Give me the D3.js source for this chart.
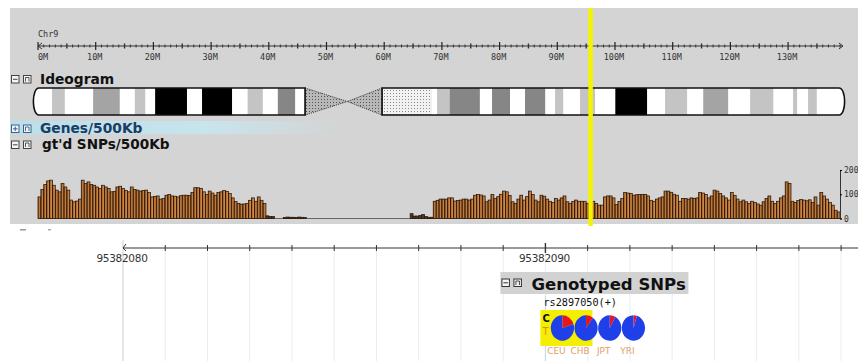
<!DOCTYPE html>
<html>
<head>
<meta charset="utf-8">
<script src="https://cdn.jsdelivr.net/npm/d3@7"></script>
<style>
  html, body { margin: 0; padding: 0; background: #fff; }
  svg { display: block; }
</style>
</head>
<body>
<div id="chart"></div>
<script>
// chromosome overview
const chromName = "Chr9";
const chromLength = 140.27; // Mb
const majorTicks = [0, 10, 20, 30, 40, 50, 60, 70, 80, 90, 100, 110, 120, 130];
const majorTickLabels = ["0M", "10M", "20M", "30M", "40M", "50M", "60M", "70M", "80M", "90M", "100M", "110M", "120M", "130M"];

// cytobands [start Mb, end Mb, stain]
const bands = [
  [0, 3.3, "gneg"], [3.3, 5.5, "gpos25"], [5.5, 10.4, "gneg"], [10.4, 15.0, "gpos50"],
  [15.0, 17.6, "gneg"], [17.6, 19.4, "gpos25"], [19.4, 21.1, "gneg"], [21.1, 26.6, "gpos100"],
  [26.6, 29.2, "gneg"], [29.2, 34.4, "gpos100"], [34.4, 37.1, "gneg"], [37.1, 39.7, "gpos25"],
  [39.7, 42.3, "gneg"], [42.3, 45.3, "gpos75"], [45.3, 47.0, "gneg"],
  [60.3, 68.9, "gvar"], [68.9, 69.8, "gneg"], [69.8, 72.0, "gpos25"], [72.0, 77.2, "gpos75"],
  [77.2, 79.3, "gneg"], [79.3, 82.4, "gpos75"], [82.4, 85.0, "gneg"], [85.0, 88.5, "gpos75"],
  [88.5, 90.2, "gneg"], [90.2, 91.6, "gpos25"], [91.6, 94.5, "gneg"], [94.5, 97.1, "gpos25"],
  [97.1, 100.6, "gneg"], [100.6, 106.1, "gpos100"], [106.1, 109.2, "gneg"], [109.2, 113.0, "gpos25"],
  [113.0, 115.8, "gneg"], [115.8, 120.1, "gpos50"], [120.1, 123.9, "gneg"], [123.9, 127.9, "gpos25"],
  [127.9, 131.3, "gneg"], [131.3, 132.0, "gpos25"], [132.0, 133.9, "gneg"], [133.9, 135.4, "gpos25"],
  [135.4, 140.27, "gneg"]
];
const pArmEnd = 47.0, centromereMid = 54.3, qArmStart = 60.3;

// genotyped SNPs per 500Kb bin, starting at 0 Mb
const binSize = 0.5;
const snpCounts = [
  89, 120, 140, 155, 158, 137, 117, 110, 144, 130,
  117, 76, 69, 72, 80, 158, 144, 151, 140, 137,
  130, 124, 137, 130, 124, 110, 112, 130, 133, 124,
  115, 110, 130, 120, 117, 113, 115, 117, 107, 89,
  91, 93, 80, 82, 96, 99, 93, 92, 89, 94,
  96, 96, 95, 107, 127, 127, 124, 110, 99, 113,
  105, 96, 107, 110, 115, 112, 103, 85, 70, 62,
  59, 60, 62, 75, 85, 71, 89, 75, 62,
  11, 8, 8, 0, 0, 0, 4, 6, 5, 5, 4, 6, 5, 4,
  0, 0, 0, 0, 0, 0, 0, 0, 0, 0, 0, 0, 0, 0, 0, 0, 0, 0,
  0, 0, 0, 0, 0, 0, 0, 0, 0, 0, 0, 0, 0, 0, 0, 0, 0, 0,
  20, 10, 10, 12, 16, 8, 5, 5, 71,
  75, 80, 80, 80, 85, 85, 72, 74, 76, 80,
  80, 76, 80, 96, 99, 97, 93, 69, 76, 99,
  82, 90, 100, 113, 110, 95, 69, 62, 80, 96,
  76, 90, 113, 99, 76, 69, 96, 92, 80, 71,
  66, 82, 76, 85, 93, 69, 62, 70, 76, 71,
  71, 71, 62, 69, 71, 62, 55, 55, 89, 93,
  93, 85, 58, 70, 82, 107, 105, 103, 96, 98,
  99, 99, 99, 93, 75, 71, 80, 85, 89, 113,
  113, 108, 100, 96, 71, 82, 82, 80, 85, 82,
  85, 107, 105, 99, 85, 93, 117, 113, 103, 93,
  85, 76, 107, 95, 80, 69, 76, 69, 62, 71,
  66, 60, 55, 69, 82, 93, 71, 62, 71, 85,
  93, 151, 144, 71, 66, 74, 78, 76, 73, 77,
  66, 89, 55, 107, 93, 80, 66, 55, 34, 27
];
const countTicks = [0, 100, 200];

// detail view
const detailStart = 95382080, detailEnd = 95382097.4;
const detailLabels = [95382080, 95382090];
const snpPos = 95382090;
const snpName = "rs2897050(+)";
const alleles = ["C", "T"];
const pops = ["CEU", "CHB", "JPT", "YRI"];
const freqC = [0.2, 0.1, 0.08, 0.05];

const W = 858, H = 361;
const stainFill = {gneg: "#ffffff", gpos25: "#c4c4c4", gpos50: "#a4a4a4", gpos75: "#868686", gpos100: "#000000"};

const svg = d3.select("#chart").append("svg")
  .attr("width", W).attr("height", H)
  .style("font-family", "DejaVu Sans, sans-serif");

const defs = svg.append("defs");
const acen = defs.append("pattern").attr("id", "acenPat")
  .attr("width", 3).attr("height", 3).attr("patternUnits", "userSpaceOnUse");
acen.append("rect").attr("width", 3).attr("height", 3).attr("fill", "#b8b8b8");
acen.append("rect").attr("width", 1).attr("height", 1).attr("fill", "#555");
const gvar = defs.append("pattern").attr("id", "gvarPat")
  .attr("width", 3).attr("height", 3).attr("patternUnits", "userSpaceOnUse");
gvar.append("rect").attr("width", 3).attr("height", 3).attr("fill", "#f2f2f2");
gvar.append("rect").attr("width", 1).attr("height", 1).attr("fill", "#8a8a8a");

const barGrad = defs.append("linearGradient").attr("id", "barGrad");
barGrad.append("stop").attr("offset", "0%").attr("stop-color", "#5e3210");
barGrad.append("stop").attr("offset", "30%").attr("stop-color", "#b06a2e");
barGrad.append("stop").attr("offset", "70%").attr("stop-color", "#d08a48");
barGrad.append("stop").attr("offset", "100%").attr("stop-color", "#a86430");

// grey overview panel
svg.append("rect").attr("x", 10).attr("y", 8).attr("width", W - 10).attr("height", 216).attr("fill", "#d4d4d4");

const x = d3.scaleLinear().domain([0, 140]).range([38, 845.8]);
const ideoX = d3.scaleLinear().domain([0, chromLength]).range([33, 845]);

// Genes row highlight
const hl = defs.append("linearGradient").attr("id", "hlGrad");
hl.append("stop").attr("offset", "0%").attr("stop-color", "#b8e0ec");
hl.append("stop").attr("offset", "60%").attr("stop-color", "#c8e4ec");
hl.append("stop").attr("offset", "100%").attr("stop-color", "#d4d4d4");
svg.append("rect").attr("x", 10).attr("y", 121).attr("width", 330).attr("height", 13).attr("fill", "url(#hlGrad)");

// chromosome ruler
svg.append("text").attr("x", 38).attr("y", 37).attr("font-size", 8.5)
  .attr("font-family", "DejaVu Sans Mono, monospace").attr("fill", "#333").text(chromName);
const axisY = 46;
svg.append("line").attr("x1", x(0)).attr("x2", x(139.5)).attr("y1", axisY).attr("y2", axisY)
  .attr("stroke", "#333").attr("stroke-width", 1);
svg.append("path").attr("d", `M${x(0) + 4},${axisY - 3}L${x(0)},${axisY}L${x(0) + 4},${axisY + 3}`)
  .attr("fill", "none").attr("stroke", "#333");
svg.append("path").attr("d", `M${x(139.5) - 4},${axisY - 3}L${x(139.5)},${axisY}L${x(139.5) - 4},${axisY + 3}`)
  .attr("fill", "none").attr("stroke", "#333");
svg.append("g").selectAll("line").data(d3.range(1, 140).filter(d => d % 10 !== 0))
  .join("line")
  .attr("x1", d => x(d)).attr("x2", d => x(d))
  .attr("y1", d => d % 5 === 0 ? axisY - 2.5 : axisY - 1.5)
  .attr("y2", d => d % 5 === 0 ? axisY + 2.5 : axisY + 1.5)
  .attr("stroke", "#333").attr("stroke-width", d => d % 5 === 0 ? 1.4 : 1);
svg.append("g").selectAll("line").data(majorTicks).join("line")
  .attr("x1", d => x(d)).attr("x2", d => x(d)).attr("y1", axisY - 4).attr("y2", axisY + 4)
  .attr("stroke", "#222").attr("stroke-width", 1.2);
svg.append("g").selectAll("text").data(majorTicks).join("text")
  .attr("x", (d, i) => i === 0 ? x(d) : x(d) - 1).attr("y", 60)
  .attr("text-anchor", (d, i) => i === 0 ? "start" : "middle")
  .attr("font-size", 8.5).attr("font-family", "DejaVu Sans Mono, monospace").attr("fill", "#333")
  .text((d, i) => majorTickLabels[i]);

// track header icons
function icons(g, x0, y0, color, second) {
  g.append("rect").attr("x", x0 + 0.5).attr("y", y0 + 0.5).attr("width", 7.5).attr("height", 7.5)
    .attr("fill", "#f4f4f4").attr("stroke", color);
  g.append("line").attr("x1", x0 + 2).attr("x2", x0 + 6.5).attr("y1", y0 + 4.3).attr("y2", y0 + 4.3).attr("stroke", color);
  if (second === "plus") g.append("line").attr("x1", x0 + 4.25).attr("x2", x0 + 4.25).attr("y1", y0 + 2).attr("y2", y0 + 6.5).attr("stroke", color);
  g.append("rect").attr("x", x0 + 12.5).attr("y", y0 + 0.5).attr("width", 7.5).attr("height", 7.5)
    .attr("fill", "#f4f4f4").attr("stroke", color);
  g.append("path").attr("d", `M${x0 + 14.5},${y0 + 6.5}V${y0 + 2.5}H${x0 + 18}V${y0 + 6.5}`)
    .attr("fill", "none").attr("stroke", color).attr("stroke-width", 0.9);
}
const header = svg.append("g");
icons(header, 11, 75, "#444");
icons(header, 11, 124.5, "#3a6090", "plus");
icons(header, 11, 140.5, "#444");
header.append("text").attr("x", 40).attr("y", 84).attr("font-size", 13.8).attr("font-weight", "bold").attr("fill", "#111").text("Ideogram");
header.append("text").attr("x", 40).attr("y", 133).attr("font-size", 13.8).attr("font-weight", "bold").attr("fill", "#1c3c62").text("Genes/500Kb");
header.append("text").attr("x", 42).attr("y", 149).attr("font-size", 13.6).attr("font-weight", "bold").attr("fill", "#111").text("gt'd SNPs/500Kb");

// ideogram
const iTop = 88, iBot = 115, iMid = (iTop + iBot) / 2;
const pPath = `M${ideoX(0) + 6},${iTop}L${ideoX(pArmEnd)},${iTop}L${ideoX(pArmEnd)},${iBot}L${ideoX(0) + 6},${iBot}` +
  `C${ideoX(0) - 1.5},${iBot} ${ideoX(0) - 1.5},${iTop} ${ideoX(0) + 6},${iTop}Z`;
const qEnd = ideoX(chromLength);
const qPath = `M${ideoX(qArmStart)},${iTop}L${qEnd - 6},${iTop}C${qEnd + 1.5},${iTop} ${qEnd + 1.5},${iBot} ${qEnd - 6},${iBot}` +
  `L${ideoX(qArmStart)},${iBot}Z`;
defs.append("clipPath").attr("id", "pClip").append("path").attr("d", pPath);
defs.append("clipPath").attr("id", "qClip").append("path").attr("d", qPath);
const ideo = svg.append("g");
ideo.append("g").attr("clip-path", "url(#pClip)").selectAll("rect")
  .data(bands.filter(b => b[1] <= pArmEnd)).join("rect")
  .attr("x", d => ideoX(d[0]) - 2 * (d[0] === 0)).attr("width", d => ideoX(d[1]) - ideoX(d[0]) + 2 * (d[0] === 0))
  .attr("y", iTop).attr("height", iBot - iTop)
  .attr("fill", d => stainFill[d[2]]);
ideo.append("g").attr("clip-path", "url(#qClip)").selectAll("rect")
  .data(bands.filter(b => b[0] >= qArmStart)).join("rect")
  .attr("x", d => ideoX(d[0])).attr("width", d => ideoX(d[1]) - ideoX(d[0]) + 2 * (d[1] === chromLength))
  .attr("y", iTop).attr("height", iBot - iTop)
  .attr("fill", d => d[2] === "gvar" ? "url(#gvarPat)" : stainFill[d[2]]);
// centromere
ideo.append("path")
  .attr("d", `M${ideoX(pArmEnd)},${iTop}L${ideoX(centromereMid)},${iMid}L${ideoX(pArmEnd)},${iBot}Z`)
  .attr("fill", "url(#acenPat)").attr("stroke", "#333").attr("stroke-width", 0.9).attr("stroke-dasharray", "1.2,1");
ideo.append("path")
  .attr("d", `M${ideoX(qArmStart)},${iTop}L${ideoX(centromereMid)},${iMid}L${ideoX(qArmStart)},${iBot}Z`)
  .attr("fill", "url(#acenPat)").attr("stroke", "#333").attr("stroke-width", 0.9).attr("stroke-dasharray", "1.2,1");
ideo.append("path").attr("d", pPath).attr("fill", "none").attr("stroke", "#111").attr("stroke-width", 1.6);
ideo.append("path").attr("d", qPath).attr("fill", "none").attr("stroke", "#111").attr("stroke-width", 1.6);

// SNP density bars
const y = d3.scaleLinear().domain([0, 200]).range([218.5, 170]);
svg.append("line").attr("x1", x(0)).attr("x2", x(139)).attr("y1", y(0)).attr("y2", y(0))
  .attr("stroke", "#666").attr("stroke-width", 1);
svg.append("g").selectAll("rect")
  .data(snpCounts.map((v, i) => ({start: i * binSize, v})).filter(d => d.v > 0))
  .join("rect")
  .attr("x", d => x(d.start)).attr("width", x(binSize) - x(0))
  .attr("y", d => y(d.v)).attr("height", d => y(0) - y(d.v))
  .attr("fill", d => d.v < 25 ? "#4a3a2a" : "url(#barGrad)")
  .attr("stroke", "#2a1606").attr("stroke-width", 0.75);

const rightAxis = d3.axisRight(y).tickValues(countTicks).tickSize(2).tickFormat(d3.format("d"));
svg.append("g").attr("transform", "translate(840,0)").call(rightAxis)
  .call(g => g.select(".domain").attr("stroke", "#333"))
  .call(g => g.selectAll("text").attr("font-size", 8).attr("font-family", "DejaVu Sans Mono, monospace").attr("fill", "#333").attr("dx", -1));

// position marker
svg.append("rect").attr("x", x(snpPos / 1e6)).attr("y", 8).attr("width", 4.5).attr("height", 218)
  .attr("fill", "#f4f400");

// cut-off marks under the panel
svg.append("rect").attr("x", 20).attr("y", 229).attr("width", 6).attr("height", 1.5).attr("fill", "#999");
svg.append("rect").attr("x", 48).attr("y", 229).attr("width", 3).attr("height", 1.5).attr("fill", "#aaa");

// detail base-pair ruler
const bx = d3.scaleLinear().domain([detailStart, detailEnd]).range([123, 858]);
const bpTicks = d3.range(detailStart, detailEnd, 1);
const bAxisY = 248;
svg.append("g").selectAll("line").data(bpTicks.slice(1)).join("line")
  .attr("x1", d => bx(d)).attr("x2", d => bx(d)).attr("y1", bAxisY + 2).attr("y2", H)
  .attr("stroke", "#e4eef3").attr("stroke-width", 1);
svg.append("line").attr("x1", bx(detailStart)).attr("x2", bx(detailStart)).attr("y1", 240).attr("y2", H)
  .attr("stroke", "#cfcfcf");
svg.append("line").attr("x1", bx(detailStart)).attr("x2", W).attr("y1", bAxisY).attr("y2", bAxisY)
  .attr("stroke", "#333");
svg.append("path").attr("d", `M${bx(detailStart) + 3},${bAxisY - 4}L${bx(detailStart)},${bAxisY}L${bx(detailStart) + 3},${bAxisY + 3}`)
  .attr("fill", "none").attr("stroke", "#333");
svg.append("g").selectAll("line").data(bpTicks.slice(1)).join("line")
  .attr("x1", d => bx(d)).attr("x2", d => bx(d))
  .attr("y1", d => detailLabels.includes(d) ? bAxisY - 5 : bAxisY - 3)
  .attr("y2", d => detailLabels.includes(d) ? bAxisY + 5 : bAxisY + 3)
  .attr("stroke", "#333").attr("stroke-width", d => detailLabels.includes(d) ? 1.4 : 1);
svg.append("g").selectAll("text").data(detailLabels).join("text")
  .attr("x", d => bx(d) - 1).attr("y", 262).attr("text-anchor", "middle")
  .attr("font-size", 10.5).attr("fill", "#333").attr("letter-spacing", -0.3)
  .text(d => d);

// genotyped SNPs track
const sx = bx(snpPos);
svg.append("line").attr("x1", sx).attr("x2", sx).attr("y1", 296).attr("y2", H).attr("stroke", "#c4d6e6");
const trk = svg.append("g");
trk.append("rect").attr("x", sx - 45).attr("y", 272).attr("width", 188).attr("height", 22).attr("fill", "#d2d2d2");
icons(trk, sx - 44, 278.5, "#333");
trk.append("text").attr("x", sx - 14).attr("y", 290).attr("font-size", 16.5).attr("font-weight", "bold")
  .attr("fill", "#111").text("Genotyped SNPs");
trk.append("text").attr("x", sx - 2).attr("y", 306).attr("font-size", 10.2)
  .attr("font-family", "DejaVu Sans Mono, monospace").attr("fill", "#111").text(snpName);
trk.append("rect").attr("x", sx - 5).attr("y", 310).attr("width", 52).attr("height", 36).attr("fill", "#f4ee00");
trk.append("text").attr("x", sx - 3).attr("y", 322).attr("font-size", 10).attr("font-weight", "bold").attr("fill", "#111").text(alleles[0]);
trk.append("text").attr("x", sx - 3).attr("y", 335).attr("font-size", 10).attr("fill", "#e09000").text(alleles[1]);

const pie = d3.pie().sort(null);
const arc = d3.arc().innerRadius(0).outerRadius(12.5);
const pieX = d3.scalePoint().domain(pops).range([sx + 17, sx + 88]);
pops.forEach((p, i) => {
  const g = trk.append("g").attr("transform", `translate(${pieX(p)},328) scale(0.93,1.02)`);
  g.selectAll("path").data(pie([freqC[i], 1 - freqC[i]])).join("path")
    .attr("d", arc).attr("fill", (d, j) => j === 0 ? "#e8141e" : "#1f40e8");
});
trk.selectAll(".pop").data(pops).join("text").attr("class", "pop")
  .attr("x", p => pieX(p) - 6).attr("y", 354).attr("text-anchor", "middle")
  .attr("font-size", 9).attr("fill", "#e3a066").text(p => p);
</script>
</body>
</html>
